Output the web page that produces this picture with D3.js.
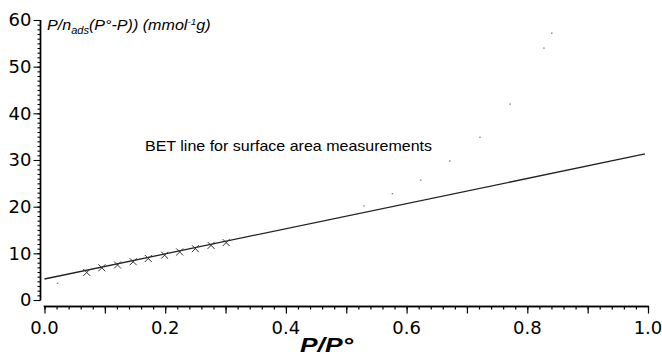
<!DOCTYPE html>
<html>
<head>
<meta charset="utf-8">
<script src="https://cdn.jsdelivr.net/npm/d3@7"></script>
<style>
  html, body { margin: 0; padding: 0; background: #fff; }
  svg { display: block; }
</style>
</head>
<body>
<script>
// BET points used for the fit (P/P°, P/n_ads(P°-P))
const betX = [0.070, 0.095, 0.121, 0.147, 0.172, 0.199, 0.224, 0.250, 0.276, 0.301];
const betY = [5.9, 6.9, 7.5, 8.2, 8.9, 9.6, 10.3, 11.0, 11.7, 12.3];

// remaining isotherm points (tiny grey dots)
const dotX = [0.022, 0.530, 0.577, 0.624, 0.672, 0.722, 0.772, 0.828, 0.841];
const dotY = [3.6, 20.2, 22.8, 25.7, 29.8, 34.9, 42.0, 54.0, 57.2];

// fitted BET line
const fitX = [0.0, 0.995];
const fitY = [4.5, 31.3];

const xTicks = [0.0, 0.2, 0.4, 0.6, 0.8, 1.0];
const yTicks = [0, 10, 20, 30, 40, 50, 60];

const width = 662;
const height = 355;

const x = d3.scaleLinear().domain([0, 1]).range([44.5, 648]);
const y = d3.scaleLinear().domain([0, 60]).range([300, 20]);

const svg = d3.select('body')
  .append('svg')
  .attr('width', width)
  .attr('height', height);

svg.append('rect')
  .attr('width', width)
  .attr('height', height)
  .attr('fill', 'white');

const tickFont = '"DejaVu Sans", sans-serif';
const textFont = '"Liberation Sans", Arial, sans-serif';

// X axis (sits a little below y = 0)
const xAxisY = 306.5;
const gx = svg.append('g').attr('transform', `translate(0,${xAxisY})`);
gx.call(d3.axisBottom(x).tickValues(d3.range(0, 1.0001, 0.02)).tickSize(3).tickFormat(''));
gx.call(g => g.append('g').call(d3.axisBottom(x).tickValues(d3.range(0, 1.0001, 0.1)).tickSize(7).tickFormat('')));
gx.selectAll('.domain').attr('d', `M${x(0)},0.5V0H${x(1)}V0.5`);
gx.selectAll('path, line').attr('stroke', '#000').attr('stroke-width', 1.2);
gx.selectAll('.domain').attr('stroke-width', 1.5);
gx.append('g').selectAll('text')
  .data(xTicks)
  .join('text')
  .attr('x', d => x(d))
  .attr('y', 27)
  .attr('text-anchor', 'middle')
  .attr('font-family', tickFont)
  .attr('font-size', 18)
  .attr('fill', '#000')
  .text(d => d.toFixed(1));

// Y axis (left of x = 0)
const yAxisX = 40.5;
const gy = svg.append('g').attr('transform', `translate(${yAxisX},0)`);
gy.call(d3.axisLeft(y).tickValues(d3.range(0, 60.001, 1)).tickSize(3).tickFormat(''));
gy.call(g => g.append('g').call(d3.axisLeft(y).tickValues(yTicks).tickSize(7).tickFormat('')));
gy.selectAll('.domain').attr('d', `M0,${y(0)}V${y(60)}`);
gy.selectAll('path, line').attr('stroke', '#000').attr('stroke-width', 1.1);
gy.selectAll('.domain').attr('stroke-width', 1.4);
gy.append('g').selectAll('text')
  .data(yTicks)
  .join('text')
  .attr('x', -9)
  .attr('y', d => y(d))
  .attr('dy', '0.36em')
  .attr('text-anchor', 'end')
  .attr('font-family', tickFont)
  .attr('font-size', 18)
  .attr('fill', '#000')
  .text(d => d);

// fitted line
const fit = fitX.map((v, i) => [v, fitY[i]]);
svg.append('path')
  .datum(fit)
  .attr('fill', 'none')
  .attr('stroke', '#222')
  .attr('stroke-width', 1.3)
  .attr('d', d3.line().x(d => x(d[0])).y(d => y(d[1])));

// other isotherm points
svg.append('g').selectAll('rect')
  .data(dotX.map((v, i) => [v, dotY[i]]))
  .join('rect')
  .attr('x', d => x(d[0]) - 1)
  .attr('y', d => y(d[1]) - 0.5)
  .attr('width', 1.5)
  .attr('height', 1.2)
  .attr('fill', '#777');

// BET points as crosses
const s = 3.5;
svg.append('g').selectAll('path')
  .data(betX.map((v, i) => [v, betY[i]]))
  .join('path')
  .attr('d', d => {
    const cx = x(d[0]), cy = y(d[1]);
    return `M${cx - s},${cy - s}L${cx + s},${cy + s}M${cx - s},${cy + s}L${cx + s},${cy - s}`;
  })
  .attr('stroke', '#333')
  .attr('stroke-width', 1)
  .attr('fill', 'none');

// annotation
svg.append('text')
  .attr('x', 145)
  .attr('y', 151)
  .attr('font-family', textFont)
  .attr('font-size', 14.5)
  .attr('textLength', 287)
  .attr('lengthAdjust', 'spacingAndGlyphs')
  .attr('fill', '#000')
  .text('BET line for surface area measurements');

// y axis title (slightly stretched like the original)
const yt = svg.append('text')
  .attr('transform', 'translate(47,30) scale(1.11,1)')
  .attr('font-family', textFont)
  .attr('font-style', 'italic')
  .attr('font-size', 14.5)
  .attr('fill', '#000');
yt.append('tspan').text('P/n');
yt.append('tspan').attr('font-size', 10).attr('dy', 4).text('ads');
yt.append('tspan').attr('dy', -4).text('(P°-P)) (mmol');
yt.append('tspan').attr('font-size', 9).attr('dy', -5).text('-1');
yt.append('tspan').attr('dy', 5).text('g)');

// x axis title
svg.append('text')
  .attr('x', 300)
  .attr('y', 352)
  .attr('font-family', textFont)
  .attr('font-style', 'italic')
  .attr('font-weight', 'bold')
  .attr('font-size', 21)
  .attr('textLength', 53)
  .attr('lengthAdjust', 'spacingAndGlyphs')
  .attr('fill', '#000')
  .text('P/P°');
</script>
</body>
</html>
